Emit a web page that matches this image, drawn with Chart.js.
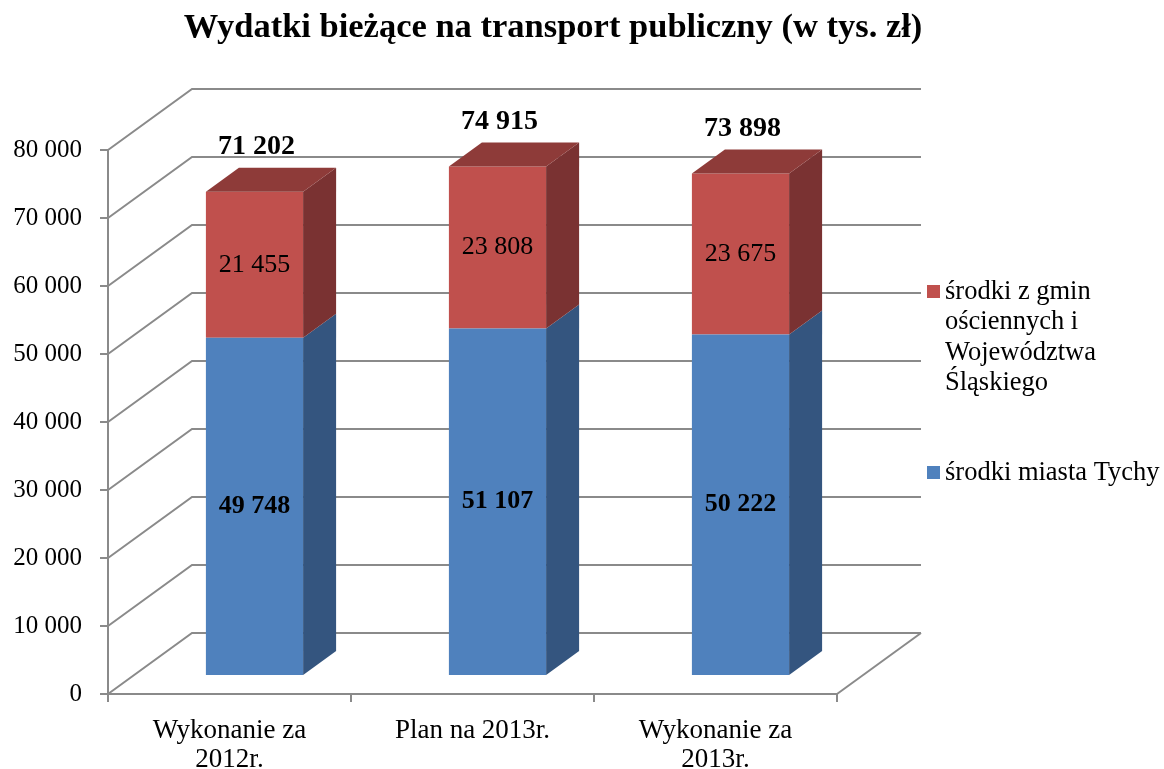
<!DOCTYPE html>
<html><head><meta charset="utf-8">
<script src="https://cdn.jsdelivr.net/npm/chart.js@4"></script>
<style>html,body{margin:0;padding:0;background:#fff;} canvas{display:block;}</style>
</head><body>
<canvas id="c" width="1164" height="769"></canvas>
<script>
const chartTitle = "Wydatki bieżące na transport publiczny (w tys. zł)";
const categories = [["Wykonanie za", "2012r."], "Plan na 2013r.", ["Wykonanie za", "2013r."]];
const cityName = "środki miasta Tychy";
const cityFunds = [49748, 51107, 50222];
const regionName = "środki z gmin ościennych i Województwa Śląskiego";
const regionFunds = [21455, 23808, 23675];
const totals = [71202, 74915, 73898];
const yTicks = [0, 10000, 20000, 30000, 40000, 50000, 60000, 70000, 80000];

const FONT = "'Liberation Serif', 'Times New Roman', serif";
const GRID = '#8a8a8a';
// 3D geometry (pixels)
const DEPTH = {dx: 84, dy: -61};          // wall depth
const BAR_SHIFT = {dx: 25, dy: -18};      // bar front plane offset
const BAR_DEPTH = {dx: 33, dy: -24};      // bar thickness in depth

const fmt = v => String(v).replace(/\B(?=(\d{3})+(?!\d))/g, ' ');

const threeD = {
  id: 'threeD',
  beforeDatasetsDraw(chart) {
    const ctx = chart.ctx, y = chart.scales.y, a = chart.chartArea;
    ctx.save();
    ctx.strokeStyle = GRID; ctx.lineWidth = 2;
    yTicks.forEach(v => {
      const py = y.getPixelForValue(v);
      ctx.beginPath();
      ctx.moveTo(a.left, py);
      ctx.lineTo(a.left + DEPTH.dx, py + DEPTH.dy);
      ctx.lineTo(a.right + DEPTH.dx, py + DEPTH.dy);
      ctx.stroke();
    });
    const p0 = y.getPixelForValue(0);
    ctx.beginPath();
    ctx.moveTo(a.right, p0);
    ctx.lineTo(a.right + DEPTH.dx, p0 + DEPTH.dy);
    ctx.stroke();
    ctx.restore();
    ctx.save();
    ctx.translate(BAR_SHIFT.dx, BAR_SHIFT.dy);
  },
  afterDatasetsDraw(chart) {
    const ctx = chart.ctx;
    const sideCols = ['#34557f', '#7a3232'];
    const topCol = '#8e3b39';
    const nDs = chart.data.datasets.length;
    chart.data.datasets.forEach((ds, di) => {
      const meta = chart.getDatasetMeta(di);
      meta.data.forEach(bar => {
        const p = bar.getProps(['x', 'y', 'base', 'width'], true);
        const x2 = p.x + p.width / 2, x1 = p.x - p.width / 2;
        const top = Math.min(p.y, p.base), bot = Math.max(p.y, p.base);
        ctx.fillStyle = sideCols[di];
        ctx.beginPath();
        ctx.moveTo(x2, top);
        ctx.lineTo(x2 + BAR_DEPTH.dx, top + BAR_DEPTH.dy);
        ctx.lineTo(x2 + BAR_DEPTH.dx, bot + BAR_DEPTH.dy);
        ctx.lineTo(x2, bot);
        ctx.closePath(); ctx.fill();
        if (di === nDs - 1) {
          ctx.fillStyle = topCol;
          ctx.beginPath();
          ctx.moveTo(x1, top);
          ctx.lineTo(x2, top);
          ctx.lineTo(x2 + BAR_DEPTH.dx, top + BAR_DEPTH.dy);
          ctx.lineTo(x1 + BAR_DEPTH.dx, top + BAR_DEPTH.dy);
          ctx.closePath(); ctx.fill();
        }
      });
    });
    // value labels
    ctx.fillStyle = '#000';
    ctx.textAlign = 'center';
    ctx.textBaseline = 'middle';
    chart.data.datasets.forEach((ds, di) => {
      const meta = chart.getDatasetMeta(di);
      ctx.font = (di === 0 ? 'bold ' : '') + '26px ' + FONT;
      meta.data.forEach((bar, i) => {
        const p = bar.getProps(['x', 'y', 'base'], true);
        ctx.fillText(fmt(ds.data[i]), p.x, (p.y + p.base) / 2);
      });
    });
    const topMeta = chart.getDatasetMeta(nDs - 1);
    ctx.font = 'bold 28px ' + FONT;
    topMeta.data.forEach((bar, i) => {
      const p = bar.getProps(['x', 'y'], true);
      ctx.fillText(fmt(totals[i]), p.x + 2, p.y + BAR_DEPTH.dy - 21);
    });
    ctx.restore();
  },
  afterDraw(chart) {
    const ctx = chart.ctx;
    ctx.save();
    ctx.fillStyle = '#000';
    ctx.textAlign = 'center';
    ctx.textBaseline = 'alphabetic';
    ctx.font = 'bold 34.5px ' + FONT;
    ctx.fillText(chartTitle, 553, 37);
    // legend
    ctx.textAlign = 'left';
    ctx.textBaseline = 'middle';
    ctx.font = '26.5px ' + FONT;
    const wrap = (text, maxW) => {
      const words = text.split(' '); const lines = []; let cur = '';
      words.forEach(w => {
        const t = cur ? cur + ' ' + w : w;
        if (ctx.measureText(t).width > maxW && cur) { lines.push(cur); cur = w; } else cur = t;
      });
      if (cur) lines.push(cur);
      return lines;
    };
    const items = chart.data.datasets.slice().reverse();
    const starts = [292, 473];
    items.forEach((ds, k) => {
      const lines = wrap(ds.label, 222);
      const y0 = starts[k];
      ctx.fillStyle = ds.backgroundColor;
      ctx.fillRect(927, y0 - 7, 13, 13);
      ctx.fillStyle = '#000';
      lines.forEach((ln, j) => ctx.fillText(ln, 945, y0 + j * 30.5));
    });
    ctx.restore();
  }
};

new Chart(document.getElementById('c'), {
  type: 'bar',
  data: {
    labels: categories,
    datasets: [
      {label: cityName, data: cityFunds, backgroundColor: '#4f81bd', clip: false},
      {label: regionName, data: regionFunds, backgroundColor: '#c0504d', clip: false}
    ]
  },
  options: {
    responsive: false,
    animation: false,
    devicePixelRatio: 1,
    layout: {padding: {left: 0, top: 150, right: 327, bottom: 0}},
    datasets: {bar: {barPercentage: 0.4, categoryPercentage: 1}},
    plugins: {legend: {display: false}, title: {display: false}, tooltip: {enabled: false}},
    scales: {
      x: {
        stacked: true,
        afterFit: s => { s.height = 75; },
        border: {display: true, color: GRID, width: 2},
        grid: {drawOnChartArea: false, drawTicks: true, tickLength: 8, color: GRID, lineWidth: 2, offset: true},
        ticks: {color: '#000', font: {family: FONT, size: 27, lineHeight: 1.074}, padding: 14, maxRotation: 0, autoSkip: false}
      },
      y: {
        stacked: true,
        min: 0, max: 80000,
        afterFit: s => { s.width = 108; },
        afterBuildTicks: s => { s.ticks = yTicks.map(v => ({value: v})); },
        border: {display: true, color: GRID, width: 2},
        grid: {drawOnChartArea: false, drawTicks: true, tickLength: 8, color: GRID, lineWidth: 2},
        ticks: {color: '#000', font: {family: FONT, size: 25}, padding: 18, callback: v => fmt(v)}
      }
    }
  },
  plugins: [threeD]
});
</script>
</body></html>
